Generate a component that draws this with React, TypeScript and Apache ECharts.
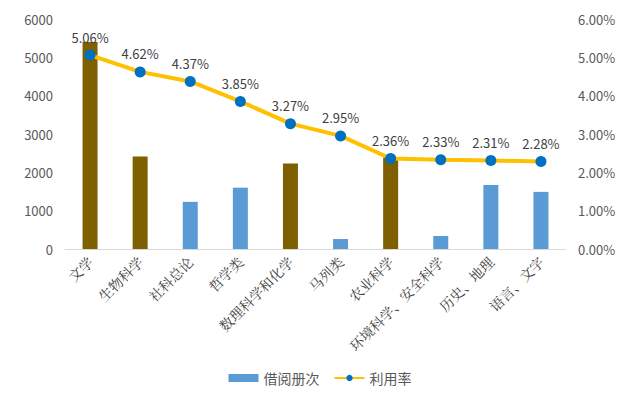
import React, { useEffect, useRef } from "react";
import * as echarts from "echarts";

const categories = ["文学", "生物科学", "社科总论", "哲学类", "数理科学和化学", "马列类", "农业科学", "环境科学、安全科学", "历史、地理", "语言、文字"];
const loans = [5400, 2410, 1230, 1600, 2230, 260, 2390, 340, 1670, 1490];
const highlighted = [true, true, false, false, true, false, true, false, false, false];
const usageRate = [5.06, 4.62, 4.37, 3.85, 3.27, 2.95, 2.36, 2.33, 2.31, 2.28];
const leftTicks = { min: 0, max: 6000, interval: 1000 };
const rightTicks = { min: 0, max: 6, interval: 1 };

const BLUE = "#5B9BD5";
const BROWN = "#7F6000";

export default function App() {
  const ref = useRef<HTMLDivElement>(null);
  useEffect(() => {
    if (!ref.current) return;
    const chart = echarts.init(ref.current, null, { renderer: "svg" });
    const font = "'Microsoft YaHei', 'Noto Sans CJK SC', sans-serif";
    chart.setOption({
      animation: false,
      textStyle: { fontFamily: font },
      grid: { left: 65, right: 74, top: 19, bottom: 153 },
      legend: {
        bottom: 12,
        left: "center",
        itemWidth: 30,
        itemHeight: 8,
        itemGap: 14,
        textStyle: { color: "#595959", fontSize: 14, fontFamily: font },
        data: [
          { name: "借阅册次", icon: "rect" },
          { name: "利用率" },
        ],
      },
      xAxis: {
        type: "category",
        data: categories,
        axisLine: { lineStyle: { color: "#D9D9D9" } },
        axisTick: { show: false },
        axisLabel: {
          rotate: 45,
          interval: 0,
          color: "#404040",
          fontSize: 14,
          margin: 10,
          fontFamily: "'Noto Serif CJK SC', 'Noto Sans CJK SC', serif",
        },
      },
      yAxis: [
        {
          type: "value",
          ...leftTicks,
          axisLine: { show: false },
          axisTick: { show: false },
          splitLine: { show: false },
          axisLabel: { color: "#595959", fontSize: 13, margin: 12, formatter: (v: number) => String(v) },
        },
        {
          type: "value",
          ...rightTicks,
          axisLine: { show: false },
          axisTick: { show: false },
          splitLine: { show: false },
          axisLabel: {
            color: "#595959",
            fontSize: 13,
            margin: 12,
            formatter: (v: number) => v.toFixed(2) + "%",
          },
        },
      ],
      series: [
        {
          name: "借阅册次",
          type: "bar",
          barWidth: 15,
          itemStyle: { color: BLUE },
          data: loans.map((v, i) => ({
            value: v,
            itemStyle: { color: highlighted[i] ? BROWN : BLUE },
          })),
        },
        {
          name: "利用率",
          type: "line",
          yAxisIndex: 1,
          data: usageRate,
          symbol: "circle",
          symbolSize: 11,
          lineStyle: { color: "#FFC000", width: 4 },
          itemStyle: { color: "#0070C0" },
          label: {
            show: true,
            position: "top",
            distance: 6,
            color: "#404040",
            fontSize: 13,
            formatter: (p: any) => p.value.toFixed(2) + "%",
          },
        },
      ],
    });
    return () => chart.dispose();
  }, []);
  return <div ref={ref} style={{ width: 640, height: 402, position: "absolute", left: 0, top: 0 }} />;
}
